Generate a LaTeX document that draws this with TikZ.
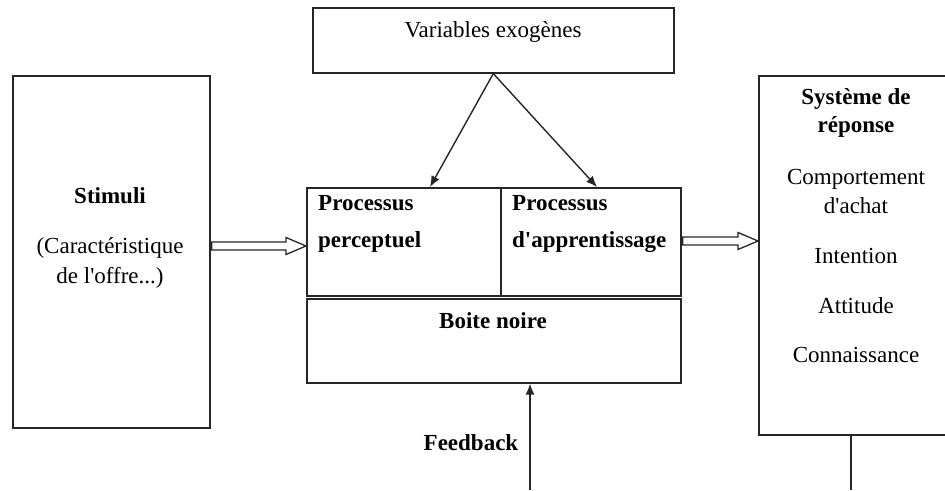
\documentclass[tikz,border=0pt]{standalone}
\usepackage{fontspec}
\setmainfont{Liberation Serif}[Ligatures=TeXOff]
\usetikzlibrary{arrows.meta,calc}
\begin{document}
\begin{tikzpicture}[x=1pt,y=-1pt,
  box/.style={draw=black!85, line width=1.6pt, inner sep=0pt, anchor=north west},
  txt/.style={inner sep=0pt, anchor=base, font=\fontsize{23}{28}\selectfont},
  btxt/.style={txt, font=\fontsize{23}{28}\selectfont\bfseries},
  ltxt/.style={btxt, anchor=base west},
  thin/.style={draw=black!85, line width=1.4pt},
  tip/.style={thin, -{Latex[length=11pt,width=9pt]}},
  hollow/.style={draw=black!85, line width=1.3pt, line join=miter}]
\useasboundingbox (0,0) rectangle (945,490);
\clip (0,0) rectangle (945,490);

% boxes
\node[box, minimum width=361pt, minimum height=65pt] (var) at (312,7) {};
\node[box, minimum width=197pt, minimum height=352pt] (stim) at (12,75) {};
\node[box, minimum width=194pt, minimum height=108pt] (perc) at (306,187) {};
\node[box, minimum width=180pt, minimum height=108pt] (appr) at (500,187) {};
\node[box, minimum width=374pt, minimum height=84pt] (boite) at (306,298) {};
\node[box, minimum width=220pt, minimum height=359pt] (rep) at (758,75) {};

% texts
\node[txt] (tvar) at (493,37) {Variables exogènes};
\node[btxt] (tstim) at (110,203) {Stimuli};
\node[txt] (tcar) at (110,253) {(Caractéristique};
\node[txt] (toff) at (110,283) {de l'offre...)};
\node[ltxt] (tp1) at (318,210) {Processus};
\node[ltxt] (tp2) at (318,247) {perceptuel};
\node[ltxt] (ta1) at (512,210) {Processus};
\node[ltxt] (ta2) at (512,247) {d'apprentissage};
\node[btxt] (tboite) at (493,328) {Boite noire};
\node[btxt] (tfeed) at (471,450) {Feedback};
\node[btxt] (tsys) at (856,104) {Système de};
\node[btxt] (trep) at (856,132) {réponse};
\node[txt] (tcomp) at (856,184) {Comportement};
\node[txt] (tach) at (856,213) {d'achat};
\node[txt] (tint) at (856,263) {Intention};
\node[txt] (tatt) at (856,313) {Attitude};
\node[txt] (tcon) at (856,362) {Connaissance};

% connectors
\coordinate (inperc) at (430,187);
\coordinate (inappr) at (597,187);
\coordinate (fbfoot) at (530,490);
\coordinate (repfoot) at (851,490);
\draw[tip] (var.south) -- (inperc);
\draw[tip] (var.south) -- (inappr);
% hollow block arrows: shaft half-height 4, head half-height 8.5, head length 20
\coordinate (sa) at (stim.east |- 0,246);
\coordinate (sb) at (perc.west |- 0,246);
\draw[hollow] ($(sa)+(1,-4)$) -- ($(sb)+(-20,-4)$) -- ($(sb)+(-20,-8.5)$) -- (sb)
  -- ($(sb)+(-20,8.5)$) -- ($(sb)+(-20,4)$) -- ($(sa)+(1,4)$) -- cycle;
\coordinate (ra) at (appr.east |- 0,241);
\coordinate (rb) at (rep.west |- 0,241);
\draw[hollow] ($(ra)+(1,-4)$) -- ($(rb)+(-20,-4)$) -- ($(rb)+(-20,-8.5)$) -- (rb)
  -- ($(rb)+(-20,8.5)$) -- ($(rb)+(-20,4)$) -- ($(ra)+(1,4)$) -- cycle;
\draw[tip] (fbfoot) -- (fbfoot |- boite.south);
\draw[thin] (rep.south -| repfoot) -- (repfoot);
\end{tikzpicture}
\end{document}
